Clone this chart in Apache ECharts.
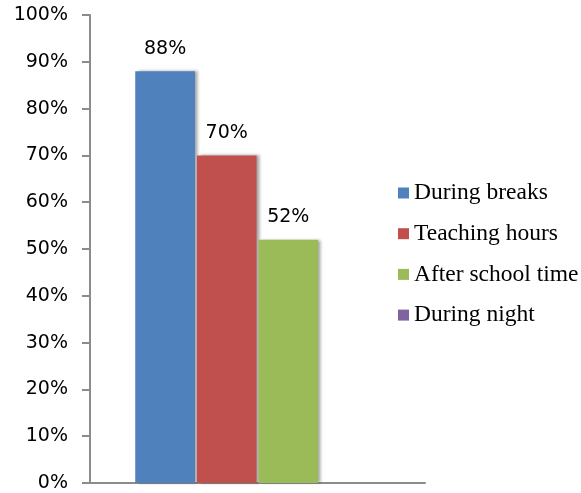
<!DOCTYPE html>
<html>
<head>
<meta charset="utf-8">
<script src="https://cdn.jsdelivr.net/npm/echarts@6/dist/echarts.min.js"></script>
<style>
html,body{margin:0;padding:0;background:#fff;}
#chart{width:581px;height:493px;}
</style>
</head>
<body>
<div id="chart"></div>
<script>
var categories = [''];
var seriesNames = ['During breaks', 'Teaching hours', 'After school time', 'During night'];
var duringBreaks = [88];
var teachingHours = [70];
var afterSchoolTime = [52];
var duringNight = [0];
var yTicks = { min: 0, max: 100, interval: 10 };

var colors = ['#4F81BD', '#C0504D', '#9BBB59', '#8064A2'];
var values = [duringBreaks, teachingHours, afterSchoolTime, duringNight];

var chart = echarts.init(document.getElementById('chart'), null, { renderer: 'canvas' });

var series = seriesNames.map(function (name, i) {
  return {
    name: name,
    type: 'bar',
    data: values[i],
    barGap: '3%',
    barCategoryGap: '27%',
    itemStyle: {
      color: colors[i],
      shadowColor: 'rgba(0,0,0,0.35)',
      shadowBlur: 3,
      shadowOffsetX: 3,
      shadowOffsetY: 0
    },
    label: {
      show: true,
      position: 'top',
      distance: 13,
      color: '#000',
      fontFamily: 'DejaVu Sans',
      fontSize: 19,
      formatter: function (p) { return p.value ? p.value + '%' : ''; }
    },
    emphasis: { disabled: true }
  };
});

chart.setOption({
  animation: false,
  color: colors,
  grid: { left: 90, right: 156, top: 15, bottom: 10, containLabel: false },
  xAxis: {
    type: 'category',
    data: categories,
    axisLine: { lineStyle: { color: '#8c8c8c', width: 2 } },
    axisTick: { show: false },
    axisLabel: { show: false },
    splitLine: { show: false }
  },
  yAxis: {
    type: 'value',
    min: yTicks.min,
    max: yTicks.max,
    interval: yTicks.interval,
    axisLine: { show: true, lineStyle: { color: '#8c8c8c', width: 2 } },
    axisTick: { show: true, length: 8, lineStyle: { color: '#8c8c8c', width: 2 } },
    splitLine: { show: false },
    axisLabel: {
      margin: 22,
      color: '#000',
      fontFamily: 'DejaVu Sans',
      fontSize: 19,
      formatter: '{value}%'
    }
  },
  legend: {
    orient: 'vertical',
    left: 393,
    top: 176,
    itemWidth: 11,
    itemHeight: 11,
    itemGap: 16.7,
    icon: 'rect',
    data: seriesNames,
    textStyle: {
      fontFamily: 'Liberation Serif',
      fontSize: 23.5,
      lineHeight: 24,
      color: '#000'
    }
  },
  series: series
});
</script>
</body>
</html>
